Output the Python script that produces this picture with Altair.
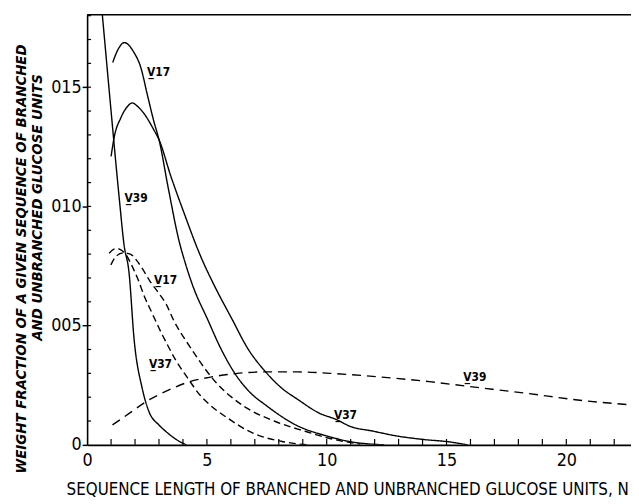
import altair as alt
import pandas as pd

# ---- data ----
x_major = [0, 5, 10, 15, 20]
y_major = [0, 0.05, 0.10, 0.15]
x_minor = [1, 2, 3, 4, 5, 6, 7, 8, 9, 10, 11, 12, 13, 14, 15, 16, 17, 18, 19, 20, 21, 22]
y_minor = [0.01, 0.02, 0.03, 0.04, 0.05, 0.06, 0.07, 0.08, 0.09, 0.10,
           0.11, 0.12, 0.13, 0.14, 0.15, 0.16, 0.17, 0.18]

v17_solid_x = [1.07, 1.3, 1.55, 1.96, 2.24, 2.51, 2.79, 3.0, 3.4, 3.85, 4.03, 4.4, 5.03, 5.6, 6.19, 6.8, 7.45, 8.7, 10.05, 10.9, 12.4]
v17_solid_y = [0.1604, 0.166, 0.1687, 0.1645, 0.1583, 0.147, 0.1355, 0.128, 0.107, 0.085, 0.0785, 0.067, 0.0526, 0.040, 0.0296, 0.022, 0.0167, 0.0084, 0.0036, 0.0015, 0.0]

v37_solid_x = [1.0, 1.14, 1.4, 1.65, 1.89, 2.1, 2.37, 2.79, 3.0, 3.5, 4.0, 4.78, 5.3, 6.05, 6.7, 7.45, 8.1, 8.8, 9.65, 10.43, 10.97, 11.91, 13.0, 14.1, 15.08, 15.88]
v37_solid_y = [0.121, 0.1295, 0.137, 0.1415, 0.1434, 0.142, 0.139, 0.132, 0.128, 0.1125, 0.0985, 0.0781, 0.067, 0.0527, 0.0405, 0.0306, 0.024, 0.019, 0.0135, 0.0105, 0.0078, 0.0058, 0.0036, 0.0022, 0.0013, 0.0]

v39_solid_x = [0.63, 0.96, 1.35, 1.54, 1.75, 1.96, 2.3, 2.58, 3.0, 3.28, 3.97, 4.15]
v39_solid_y = [0.181, 0.1444, 0.1025, 0.084, 0.0722, 0.0444, 0.0237, 0.014, 0.0083, 0.0057, 0.0008, 0.0]

v17_dash_x = [0.99, 1.2, 1.5, 1.8, 2.05, 2.3, 2.6, 3.0, 3.3, 3.6, 4.3, 5.36, 6.47, 7.86, 9.1, 10.05, 11.4]
v17_dash_y = [0.0755, 0.079, 0.0805, 0.080, 0.0776, 0.074, 0.069, 0.0635, 0.059, 0.0525, 0.041, 0.0264, 0.0167, 0.0098, 0.0057, 0.0029, 0.0003]

v37_dash_x = [0.92, 1.1, 1.26, 1.45, 1.61, 1.85, 2.1, 2.4, 2.7, 3.0, 3.35, 3.7, 4.2, 4.7, 5.1, 5.9, 6.9, 8.1, 9.2]
v37_dash_y = [0.0804, 0.082, 0.0824, 0.0815, 0.080, 0.0755, 0.070, 0.062, 0.0555, 0.049, 0.042, 0.0355, 0.028, 0.021, 0.017, 0.011, 0.005, 0.0015, 0.0]

v39_dash_x = [1.06, 1.8, 2.44, 3.3, 4.25, 5.2, 6.19, 7.45, 8.8, 10.13, 12.21, 14.29, 15.93, 18.35, 20.83, 22.7]
v39_dash_y = [0.0084, 0.0135, 0.018, 0.0225, 0.0264, 0.0285, 0.0299, 0.0306, 0.0306, 0.0300, 0.0285, 0.0265, 0.0245, 0.0216, 0.0184, 0.0168]

label_text = ["V\u033217", "V\u033239", "V\u033217", "V\u033237", "V\u033237", "V\u033239"]
label_x = [2.5, 1.56, 2.79, 2.58, 10.3, 15.7]
label_y = [0.1564, 0.1037, 0.0693, 0.034, 0.0124, 0.0286]

x_title = "SEQUENCE LENGTH OF BRANCHED AND UNBRANCHED GLUCOSE UNITS, N"
y_title_1 = "WEIGHT FRACTION OF A GIVEN SEQUENCE OF BRANCHED"
y_title_2 = "AND UNBRANCHED GLUCOSE UNITS"

# ---- build tables ----
curves = [
    ("V17 solid", "solid", v17_solid_x, v17_solid_y),
    ("V37 solid", "solid", v37_solid_x, v37_solid_y),
    ("V39 solid", "solid", v39_solid_x, v39_solid_y),
    ("V17 dashed", "dashed", v17_dash_x, v17_dash_y),
    ("V37 dashed", "dashed", v37_dash_x, v37_dash_y),
    ("V39 dashed", "longdash", v39_dash_x, v39_dash_y),
]
rows = []
for name, style, xs, ys in curves:
    for xv, yv in zip(xs, ys):
        rows.append({"curve": name, "style": style, "x": xv, "y": yv})
df = pd.DataFrame(rows)

FONT = "Liberation Sans Narrow, DejaVu Sans Condensed, Liberation Sans, sans-serif"
W, H = 550, 435
xscale = alt.Scale(domain=[0, 22.7], nice=False, zero=False)
yscale = alt.Scale(domain=[0, 0.1804], nice=False, zero=False)

lines = alt.Chart(df).mark_line(
    color="black", strokeWidth=1.4, interpolate="monotone", clip=True
).encode(
    x=alt.X("x:Q", scale=xscale, axis=alt.Axis(
        values=x_major, title=x_title, ticks=False, grid=False,
        labelFont=FONT, labelFontSize=18, labelColor="black", labelPadding=7,
        labelFlush=False, domainColor="black", domainWidth=2,
        titleFont=FONT, titleFontSize=17, titleFontWeight="normal", titleColor="black",
        titleX=263, titleY=50, titleBaseline="alphabetic", titleAlign="center")),
    y=alt.Y("y:Q", scale=yscale, axis=alt.Axis(
        values=y_major, title=None, grid=False, tickSize=5, tickColor="black", tickWidth=1.5,
        labelExpr="datum.value == 0 ? '0' : replace(format(datum.value, '.2f'), '.', '')",
        labelFont=FONT, labelFontSize=18, labelColor="black", labelPadding=1,
        domainColor="black", domainWidth=1.6)),
    detail="curve:N",
    strokeDash=alt.StrokeDash("style:N", scale=alt.Scale(
        domain=["solid", "dashed", "longdash"], range=[[1, 0], [7, 4], [9, 6]]), legend=None),
)

xt = alt.Chart(pd.DataFrame({"x": x_minor})).mark_rule(color="black", strokeWidth=1.2).encode(
    x=alt.X("x:Q", scale=xscale), y=alt.value(H), y2=alt.value(H - 6))
yt = alt.Chart(pd.DataFrame({"y": y_minor})).mark_rule(color="black", strokeWidth=1.2).encode(
    y=alt.Y("y:Q", scale=yscale), x=alt.value(0), x2=alt.value(4))

top = alt.Chart(pd.DataFrame({"a": [0]})).mark_rule(color="black", strokeWidth=1.5).encode(
    x=alt.value(0), x2=alt.value(W), y=alt.value(0))

labels = alt.Chart(pd.DataFrame({"t": label_text, "x": label_x, "y": label_y})).mark_text(
    align="left", baseline="middle", font=FONT, fontSize=12, color="black", fontWeight="bold"
).encode(x=alt.X("x:Q", scale=xscale), y=alt.Y("y:Q", scale=yscale), text="t:N")

yt1 = alt.Chart(pd.DataFrame({"t": [y_title_1]})).mark_text(
    angle=270, align="center", baseline="middle", font=FONT, fontSize=15,
    fontStyle="italic", fontWeight="bold", color="black"
).encode(x=alt.value(-67), y=alt.value(247), text="t:N")
yt2 = alt.Chart(pd.DataFrame({"t": [y_title_2]})).mark_text(
    angle=270, align="center", baseline="middle", font=FONT, fontSize=15,
    fontStyle="italic", fontWeight="bold", color="black"
).encode(x=alt.value(-51), y=alt.value(195), text="t:N")

chart = alt.layer(lines, xt, yt, top, labels, yt1, yt2).properties(
    width=W, height=H,
    autosize=alt.AutoSizeParams(type="none"),
    padding={"left": 80, "top": 4, "right": 0, "bottom": 56},
    background="white",
).configure_view(stroke=None)

chart.save("out.html", embed_options={"renderer": "svg", "actions": False})
